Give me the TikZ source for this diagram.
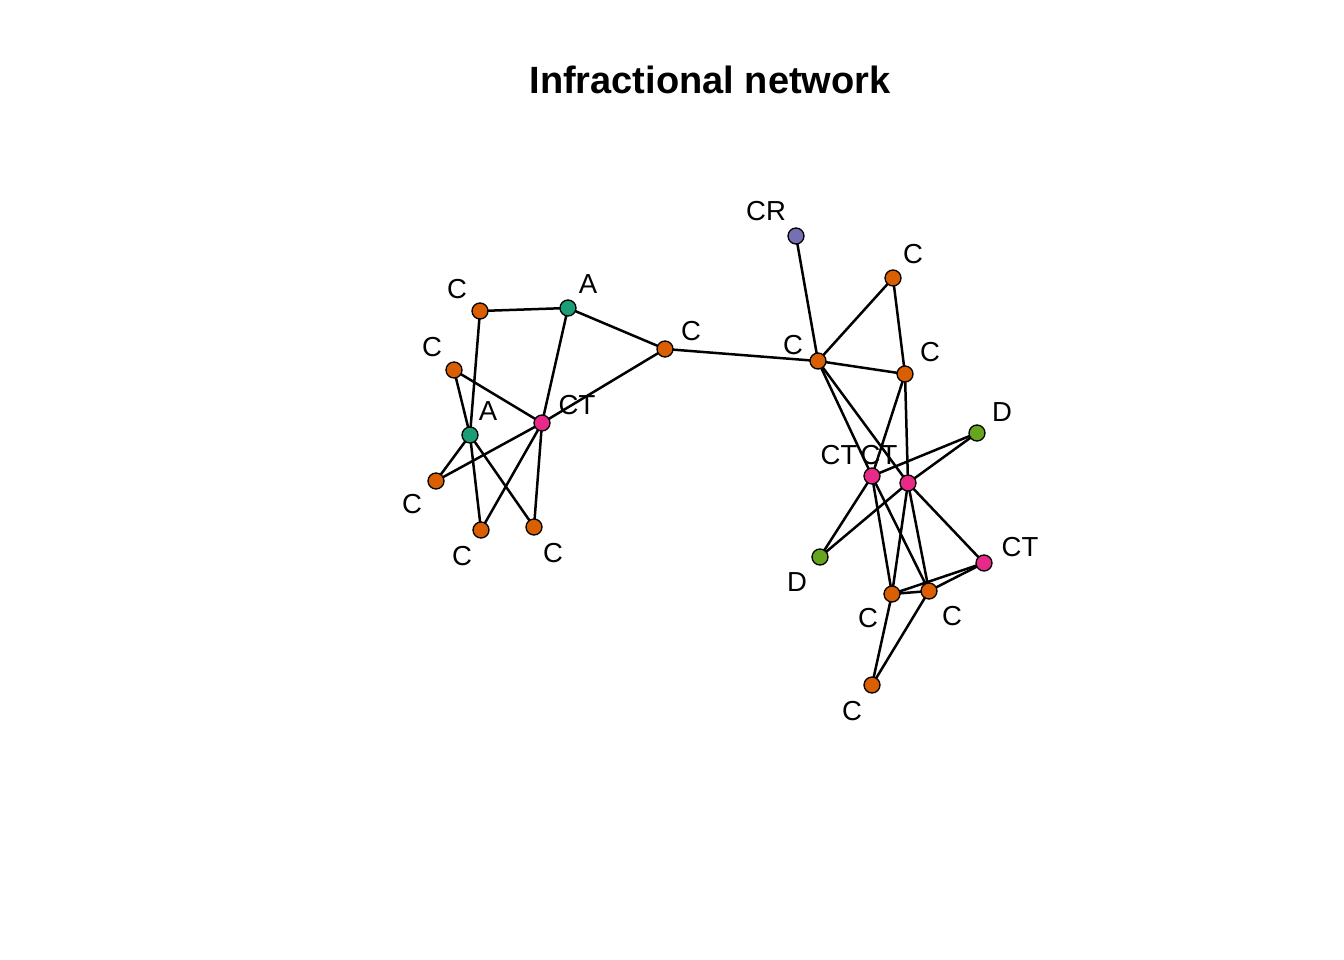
\documentclass[tikz,border=0pt]{standalone}
\usepackage{fontspec}
\setmainfont{Liberation Sans}
\usetikzlibrary{backgrounds}
\definecolor{corange}{HTML}{D95F02}
\definecolor{cgreen}{HTML}{1B9E77}
\definecolor{cpink}{HTML}{E7298A}
\definecolor{cpurple}{HTML}{7570B3}
\definecolor{clime}{HTML}{66A61E}
\tikzset{
  vtx/.style={circle, draw=black, line width=1.3pt, minimum size=16pt, inner sep=0pt},
  vo/.style={vtx, fill=corange},
  vg/.style={vtx, fill=cgreen},
  vp/.style={vtx, fill=cpink},
  vu/.style={vtx, fill=cpurple},
  vl/.style={vtx, fill=clime},
  lab/.style={inner sep=0pt, font=\fontsize{27.5}{27.5}\selectfont},
  edge/.style={line width=2.5pt, black}
}
\begin{document}
\begin{tikzpicture}[x=1pt, y=-1pt]
\useasboundingbox (0,0) rectangle (1344,960);
\node[font=\bfseries\fontsize{38}{38}\selectfont] (title) at (710,80) {Infractional network};
% nodes
\node[vo] (c1) at (480,311) {};
\node[vg] (a1) at (568,308) {};
\node[vo] (c2) at (665,349) {};
\node[vo] (c3) at (454,370) {};
\node[vg] (a2) at (470,435) {};
\node[vp] (ct1) at (542,423) {};
\node[vo] (c4) at (436,481) {};
\node[vo] (c5) at (481,530) {};
\node[vo] (c6) at (534,527) {};
\node[vu] (cr) at (796,236) {};
\node[vo] (c7) at (818,361) {};
\node[vo] (c8) at (893,278) {};
\node[vo] (c9) at (905,374) {};
\node[vl] (d1) at (977,433) {};
\node[vp] (ct2) at (872,476) {};
\node[vp] (ct3) at (908,483) {};
\node[vl] (d2) at (820,557) {};
\node[vp] (ct4) at (984,563) {};
\node[vo] (c10) at (892,594) {};
\node[vo] (c11) at (929,591) {};
\node[vo] (c12) at (872,685) {};
% edges
\begin{scope}[on background layer]
\foreach \a/\b in {c1/a1, c1/a2, a1/c2, a1/ct1, c2/ct1, c3/a2, c3/ct1, ct1/c4, a2/c4, a2/c5, a2/c6, ct1/c5, ct1/c6, c2/c7,
  cr/c7, c7/c8, c8/c9, c7/c9, c7/ct2, c7/ct3, c9/ct2, c9/ct3, ct2/d1, ct3/d1, ct2/d2, ct3/d2,
  ct2/c10, ct2/c11, ct3/c10, ct3/c11, ct3/ct4, c10/c11, c10/ct4, c11/ct4, c12/c10, c12/c11}
  {\draw[edge] (\a.center) -- (\b.center);}
\end{scope}
% labels
\node[lab] (lc1) at (457,289) {C};
\node[lab] (la1) at (588,284) {A};
\node[lab] (lc2) at (691,331) {C};
\node[lab] (lc3) at (432,347) {C};
\node[lab] (la2) at (488,411) {A};
\node[lab] (lct1) at (577,405) {CT};
\node[lab] (lc4) at (412,504) {C};
\node[lab] (lc5) at (462,556) {C};
\node[lab] (lc6) at (553,553) {C};
\node[lab] (lcr) at (766,211) {CR};
\node[lab] (lc8) at (913,254) {C};
\node[lab] (lc7) at (793,345) {C};
\node[lab] (lc9) at (930,352) {C};
\node[lab] (ld1) at (1002,412) {D};
\node[lab] (lct2) at (839,455) {CT};
\node[lab] (lct3) at (879,455) {CT};
\node[lab] (ld2) at (797,582) {D};
\node[lab] (lct4) at (1020,547) {CT};
\node[lab] (lc10) at (868,618) {C};
\node[lab] (lc11) at (952,616) {C};
\node[lab] (lc12) at (852,711) {C};
\end{tikzpicture}
\end{document}
